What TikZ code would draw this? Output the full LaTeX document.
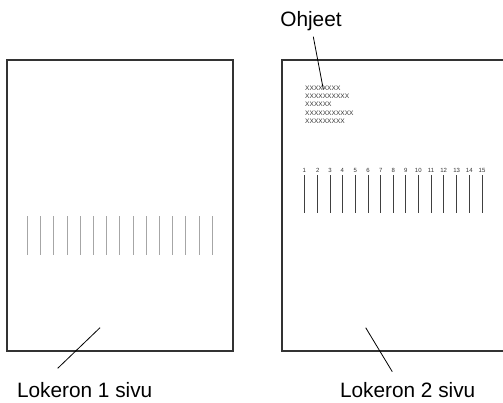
\documentclass[tikz,border=0pt]{standalone}
\usepackage{fontspec}
\setmainfont{Liberation Sans}
\begin{document}
\begin{tikzpicture}[x=1pt,y=-1pt,
  boxframe/.style={draw=black!80,line width=1.9pt,inner sep=0pt},
  biglabel/.style={font=\fontsize{20.8}{24}\selectfont,inner sep=0pt,anchor=base},
  leader/.style={draw=black,line width=0.8pt},
  numlabel/.style={font=\fontsize{6}{7}\selectfont,inner sep=0pt,anchor=base,text=black!80},
  tinytext/.style={font=\fontsize{6.6}{8}\selectfont,inner sep=0pt,anchor=base west,text=black!80},
  greyline/.style={draw=black!35,line width=0.8pt},
  darkline/.style={draw=black!75,line width=0.8pt}]
\useasboundingbox (0,0) rectangle (503,402);
\clip (0,0) rectangle (503,402);
% boxes
\node[boxframe,minimum width=225.4pt,minimum height=291pt] (box1) at (120,205.5) {};
\node[boxframe,minimum width=240pt,minimum height=291pt] (box2) at (401.7,205.5) {};
% left tray lines
\foreach \i in {0,...,14}{
  \draw[greyline] (27.3+13.2*\i,216) -- (27.3+13.2*\i,255);
}
% right tray numbers and lines
\foreach \x [count=\i] in {304.3,317.7,330,342.3,355.3,368,380.7,393.3,405.7,418.3,431,443.7,456.7,469.3,482}{
  \node[numlabel] (n\i) at (\x,172.2) {\i};
  \draw[darkline] (\x,175) -- (\x,213);
}
% instructions text
\foreach \t [count=\k] in {XXXXXXXX,XXXXXXXXXX,XXXXXX,XXXXXXXXXXX,XXXXXXXXX}{
  \node[tinytext] (instr\k) at (305,90.3+8.33*\k-8.33) {\t};
}
% labels
\node[biglabel] (ohjeet) at (311,26) {Ohjeet};
\node[biglabel] (lab1) at (84.7,397) {Lokeron 1 sivu};
\node[biglabel] (lab2) at (407.7,397) {Lokeron 2 sivu};
% leader coordinates
\coordinate (o1) at (313.3,36.7);
\coordinate (o2) at (323.3,89.3);
\coordinate (a1) at (57.7,368.3);
\coordinate (a2) at (100,327.7);
\coordinate (b1) at (392.3,371.7);
\coordinate (b2) at (365.7,327.7);
\draw[leader] (o1) -- (o2);
\draw[leader] (a1) -- (a2);
\draw[leader] (b1) -- (b2);
\end{tikzpicture}
\end{document}
